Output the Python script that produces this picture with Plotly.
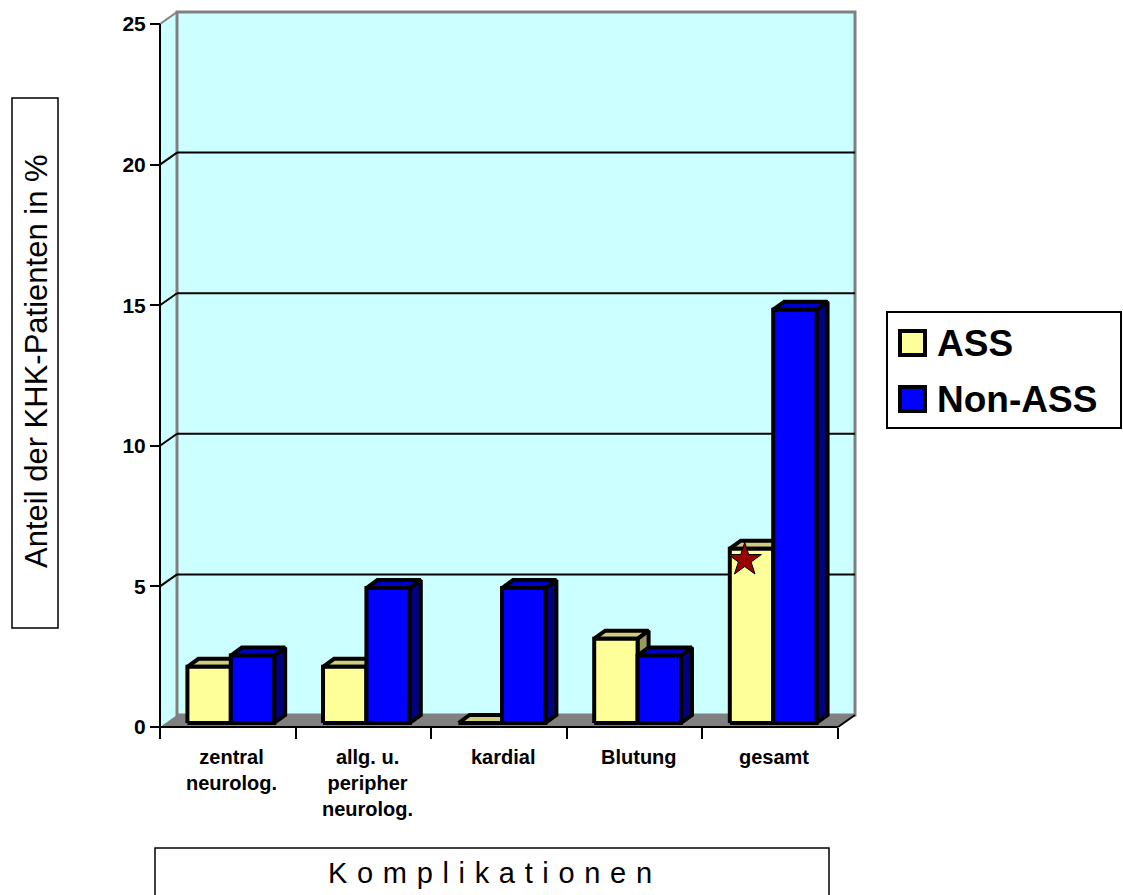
import plotly.graph_objects as go

# ---- data -------------------------------------------------------------
categories = ["zentral<br>neurolog.", "allg. u.<br>peripher<br>neurolog.",
              "kardial", "Blutung", "gesamt"]
ass_values = [2.0, 2.0, 0.0, 3.0, 6.2]
non_ass_values = [2.4, 4.8, 4.8, 2.4, 14.7]
series_names = ["ASS", "Non-ASS"]
y_ticks = [0, 5, 10, 15, 20, 25]
star_value = 5.8          # marked value inside the "gesamt" ASS column

# ---- geometry of the pseudo-3D frame ----------------------------------
W, H = 1123, 895
PX_X = 135.6              # pixels per category
PX_Y = 28.12              # pixels per percent
X0_PX, Y0_PX = 160, 727   # front origin (x = -0.5, y = 0)
PLOT_L, PLOT_R, PLOT_T, PLOT_B = 150, 862, 4, 732

DEPTH_X = 17 / PX_X       # oblique depth of the box
DEPTH_Y = 12 / PX_Y
FRONT_X, FRONT_Y = 3 / PX_X, 4 / PX_Y      # column front plane
BACK_X, BACK_Y = 14 / PX_X, 12 / PX_Y      # column back plane
BAR_W = 0.32
Y_MAX = 25
X_MIN, X_MAX = -0.5, len(categories) - 0.5

x_range = [X_MIN - (X0_PX - PLOT_L) / PX_X, X_MIN + (PLOT_R - X0_PX) / PX_X]
y_range = [-(PLOT_B - Y0_PX) / PX_Y, (Y0_PX - PLOT_T) / PX_Y]


def px_to_paper(px, py):
    return ((px - PLOT_L) / (PLOT_R - PLOT_L), (PLOT_B - py) / (PLOT_B - PLOT_T))


FONT = "Liberation Sans, Arial, sans-serif"
WALL = "#CCFFFF"
FLOOR = "#808080"
EDGE = "#808080"

colors = {
    "ASS": {"front": "#FFFF99", "top": "#CCCC7A", "side": "#99995C"},
    "Non-ASS": {"front": "#0000FF", "top": "#0000CC", "side": "#000080"},
}

fig = go.Figure()


def poly(points):
    xs = [p[0] for p in points] + [points[0][0], None]
    ys = [p[1] for p in points] + [points[0][1], None]
    return xs, ys


# ---- columns -----------------------------------------------------------
for s_idx, (name, values) in enumerate(zip(series_names, [ass_values, non_ass_values])):
    faces = {"side": ([], []), "top": ([], []), "front": ([], [])}
    for c, v in enumerate(values):
        x0 = c - BAR_W + s_idx * BAR_W
        x1 = x0 + BAR_W
        front = [(x0 + FRONT_X, FRONT_Y), (x1 + FRONT_X, FRONT_Y),
                 (x1 + FRONT_X, v + FRONT_Y), (x0 + FRONT_X, v + FRONT_Y)]
        top = [(x0 + FRONT_X, v + FRONT_Y), (x1 + FRONT_X, v + FRONT_Y),
               (x1 + BACK_X, v + BACK_Y), (x0 + BACK_X, v + BACK_Y)]
        side = [(x1 + FRONT_X, FRONT_Y), (x1 + BACK_X, BACK_Y),
                (x1 + BACK_X, v + BACK_Y), (x1 + FRONT_X, v + FRONT_Y)]
        for key, pts in (("side", side), ("top", top), ("front", front)):
            xs, ys = poly(pts)
            faces[key][0].extend(xs)
            faces[key][1].extend(ys)
    for key in ("side", "top", "front"):
        fig.add_trace(go.Scatter(
            x=faces[key][0], y=faces[key][1], mode="lines", fill="toself",
            fillcolor=colors[name][key],
            line=dict(color="black", width=4),
            hoverinfo="skip", showlegend=False, name=name,
        ))

# star marker on the "gesamt" ASS column
fig.add_trace(go.Scatter(
    x=[len(categories) - 1 - BAR_W / 2 + FRONT_X - 0.05],
    y=[star_value + FRONT_Y],
    mode="markers",
    marker=dict(symbol="star", size=25, color="#990000",
                line=dict(color="black", width=1)),
    hoverinfo="skip", showlegend=False,
))

# ---- walls, floor and gridlines ---------------------------------------
shapes = []
# left side wall
shapes.append(dict(type="path", xref="x", yref="y", layer="below",
                   path=f"M {X_MIN},0 L {X_MIN},{Y_MAX} L {X_MIN + DEPTH_X},{Y_MAX + DEPTH_Y} "
                        f"L {X_MIN + DEPTH_X},{DEPTH_Y} Z",
                   fillcolor=WALL, line=dict(width=0)))
# back wall
shapes.append(dict(type="rect", xref="x", yref="y", layer="below",
                   x0=X_MIN + DEPTH_X, x1=X_MAX + DEPTH_X, y0=DEPTH_Y, y1=Y_MAX + DEPTH_Y,
                   fillcolor=WALL, line=dict(color=EDGE, width=3)))
# top edge of the side wall
shapes.append(dict(type="line", xref="x", yref="y", layer="below",
                   x0=X_MIN, y0=Y_MAX, x1=X_MIN + DEPTH_X, y1=Y_MAX + DEPTH_Y,
                   line=dict(color=EDGE, width=2)))
# gridlines on the back wall plus their side-wall diagonals
for v in y_ticks[1:-1]:
    shapes.append(dict(type="line", xref="x", yref="y", layer="below",
                       x0=X_MIN + DEPTH_X, x1=X_MAX + DEPTH_X, y0=v + DEPTH_Y, y1=v + DEPTH_Y,
                       line=dict(color="black", width=2)))
    shapes.append(dict(type="line", xref="x", yref="y", layer="below",
                       x0=X_MIN, y0=v, x1=X_MIN + DEPTH_X, y1=v + DEPTH_Y,
                       line=dict(color="black", width=2)))
# floor
shapes.append(dict(type="path", xref="x", yref="y", layer="below",
                   path=f"M {X_MIN},0 L {X_MAX},0 L {X_MAX + DEPTH_X},{DEPTH_Y} "
                        f"L {X_MIN + DEPTH_X},{DEPTH_Y} Z",
                   fillcolor=FLOOR, line=dict(width=0)))
# front axis lines
shapes.append(dict(type="line", xref="x", yref="y", x0=X_MIN, x1=X_MIN, y0=0, y1=Y_MAX,
                   line=dict(color="black", width=2)))
shapes.append(dict(type="line", xref="x", yref="y", x0=X_MIN, x1=X_MAX, y0=0, y1=0,
                   line=dict(color="black", width=2)))
shapes.append(dict(type="line", xref="x", yref="y", x0=X_MAX, y0=0,
                   x1=X_MAX + DEPTH_X, y1=DEPTH_Y, line=dict(color="black", width=2)))

# ---- boxes for titles and legend --------------------------------------
def paper_rect(px0, py0, px1, py1, **kw):
    a = px_to_paper(px0, py0)
    b = px_to_paper(px1, py1)
    d = dict(type="rect", xref="paper", yref="paper", x0=a[0], y0=a[1], x1=b[0], y1=b[1])
    d.update(kw)
    return d


shapes.append(paper_rect(12, 98, 58, 628, line=dict(color="black", width=1.5)))
shapes.append(paper_rect(155, 848, 829, 905, line=dict(color="black", width=1.5)))
shapes.append(paper_rect(887, 312, 1121, 428, line=dict(color="black", width=2)))
legend_rows = [343, 399]
for name, yc in zip(series_names, legend_rows):
    shapes.append(paper_rect(900, yc - 12, 925, yc + 12,
                             fillcolor=colors[name]["front"],
                             line=dict(color="black", width=4)))

annotations = []
# category labels
lab_y = px_to_paper(0, 744)[1]
for c, lab in enumerate(categories):
    annotations.append(dict(x=c + 0.03, y=lab_y, xref="x", yref="paper", text=lab,
                            showarrow=False, xanchor="center", yanchor="top",
                            align="center",
                            font=dict(family=FONT, size=20, color="black", weight="bold")))
# axis titles
tx, ty = px_to_paper(490, 873)
annotations.append(dict(x=tx, y=ty, xref="paper", yref="paper",
                        text="K\u2004o\u2004m\u2004p\u2004l\u2004i\u2004k\u2004a\u2004t\u2004i\u2004o\u2004n\u2004e\u2004n",
                        showarrow=False, xanchor="center", yanchor="middle",
                        font=dict(family=FONT, size=29, color="black")))
tx, ty = px_to_paper(36, 361)
annotations.append(dict(x=tx, y=ty, xref="paper", yref="paper",
                        text="Anteil der KHK-Patienten in %", textangle=-90,
                        showarrow=False, xanchor="center", yanchor="middle",
                        font=dict(family=FONT, size=31, color="black")))
# legend texts
for name, yc in zip(series_names, legend_rows):
    tx, ty = px_to_paper(935, yc)
    annotations.append(dict(x=tx, y=ty, xref="paper", yref="paper", text=name,
                            showarrow=False, xanchor="left", yanchor="middle",
                            font=dict(family=FONT, size=37, color="black", weight="bold")))

fig.update_layout(
    width=W, height=H,
    margin=dict(l=PLOT_L, r=W - PLOT_R, t=PLOT_T, b=H - PLOT_B),
    paper_bgcolor="white", plot_bgcolor="white",
    showlegend=False,
    shapes=shapes,
    annotations=annotations,
    xaxis=dict(range=x_range, showgrid=False, zeroline=False, showline=False,
               tickvals=[X_MIN + i for i in range(len(categories) + 1)],
               showticklabels=False, ticks="outside", ticklen=11, tickwidth=2,
               tickcolor="black", anchor="free",
               position=(PLOT_B - Y0_PX) / (PLOT_B - PLOT_T), fixedrange=True),
    yaxis=dict(range=y_range, showgrid=False, zeroline=False, showline=False,
               tickvals=y_ticks, ticks="outside", ticklen=10, tickwidth=2,
               tickcolor="black", anchor="free",
               position=(X0_PX - PLOT_L) / (PLOT_R - PLOT_L),
               tickfont=dict(family=FONT, size=21, color="black", weight="bold"),
               fixedrange=True),
)

fig.write_html("out.html")
